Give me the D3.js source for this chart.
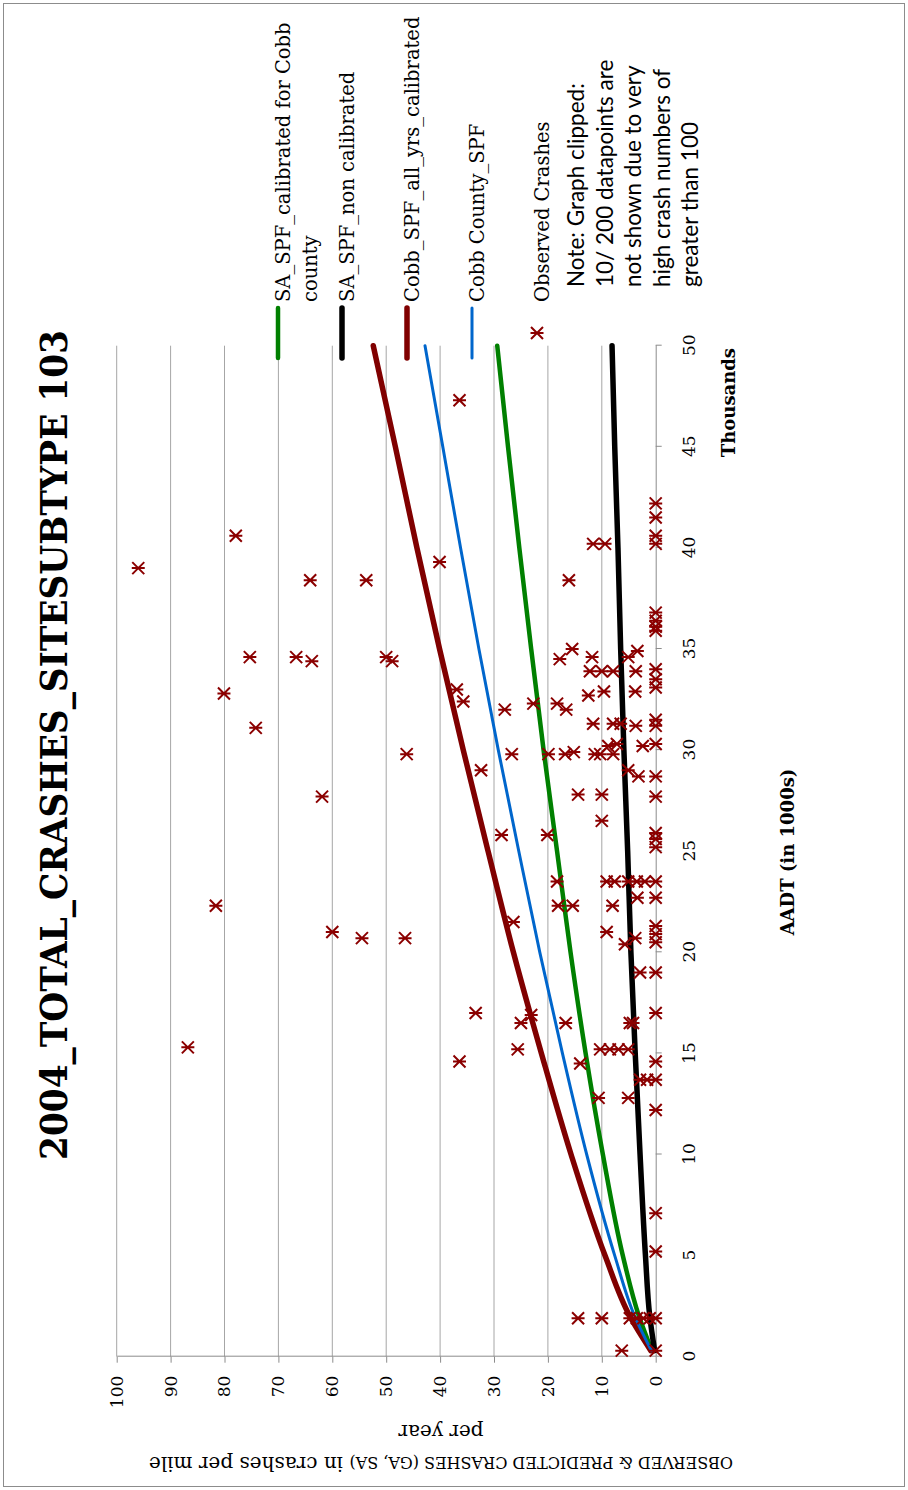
<!DOCTYPE html>
<head>
  <meta charset="utf-8" />
  <script src="https://d3js.org/d3.v7.min.js"></script>
  <style>
    body { margin: 0; background: #fff; }
    text { font-family: "DejaVu Serif", serif; fill: #000; }
    .note { font-family: Lato, "Open Sans", sans-serif; }
    .axis path, .axis line { stroke: #8c8c8c; }
    .grid line { stroke: #a6a6a6; stroke-width: 1px; }
  </style>
</head>

<body>
  <script>
    var width = 908,
      height = 1490;

    // the chart sits on its side in the page, so it is built in a
    // 1490 x 908 frame and the whole group is turned by -90 degrees
    var W = 1490, H = 908;

    var aadtTicks = [0, 5, 10, 15, 20, 25, 30, 35, 40, 45, 50];
    var crashTicks = [0, 10, 20, 30, 40, 50, 60, 70, 80, 90, 100];

    // fitted SPF curves, AADT in thousands
    var curveAadt       = [0.3, 2,   5,   10,   15,   20,   25,   30,   35,   40,   45,   50];
    var saCalibrated    = [0.7, 3.1, 6.1, 9.8,  13.0, 15.8, 18.3, 20.8, 23.1, 25.3, 27.4, 29.4];
    var saNonCalibrated = [0.2, 1.1, 1.9, 2.9,  3.8,  4.6,  5.2,  5.9,  6.5,  7.0,  7.6,  8.1];
    var cobbAllYrs      = [0.9, 4.8, 9.4, 15.7, 21.2, 26.4, 31.1, 35.7, 40.1, 44.3, 48.3, 52.4];
    var cobbCounty      = [0.8, 3.9, 7.6, 12.8, 17.3, 21.5, 25.4, 29.2, 32.8, 36.2, 39.5, 42.8];

    // observed crashes [AADT (1000s), crashes per mile per year]
    var observed = [
      [39.0, 96.0], [15.3, 86.8], [22.3, 81.6], [32.8, 80.1], [40.6, 77.9], [34.6, 75.3],
      [31.1, 74.2], [34.6, 66.7], [38.4, 64.1], [34.4, 63.8], [27.7, 61.9], [21.0, 60.0],
      [20.7, 54.5], [38.4, 53.7], [34.6, 50.0], [34.4, 48.9], [20.7, 46.5], [29.8, 46.2],
      [47.3, 36.4], [39.3, 40.1], [38.4, 16.1],
      [40.2, 11.6], [40.2, 9.4], [42.2, 0], [41.5, 0], [40.6, 0], [40.2, 0],
      [36.8, 0], [36.4, 0], [36.1, 0], [35.9, 0],
      [34.5, 17.8], [35.0, 15.5], [34.6, 11.8], [33.9, 12.2], [33.9, 10.0], [33.9, 7.9],
      [34.6, 5.1], [34.9, 3.4], [33.9, 3.7], [32.7, 12.5], [32.9, 9.6], [32.9, 3.8],
      [34.0, 0], [33.5, 0], [33.1, 0], [33.0, 36.9], [32.4, 35.7], [32.0, 28.0],
      [32.3, 22.7], [32.3, 18.3], [32.0, 16.6],
      [31.3, 11.6], [31.3, 7.9], [31.3, 6.5], [31.2, 3.7], [31.5, 0], [31.2, 0],
      [29.0, 32.4], [29.8, 26.7], [29.8, 19.9], [29.8, 16.8], [29.9, 15.2], [29.8, 11.3],
      [29.8, 10.3], [30.2, 8.8], [29.8, 7.9], [30.3, 7.2], [30.2, 2.4], [30.3, 0],
      [29.0, 5.1], [28.7, 3.2], [28.7, 0], [27.7, 0], [27.8, 14.4], [27.8, 10.0],
      [26.5, 10.0], [25.8, 28.6], [25.8, 20.1], [25.9, 0], [25.6, 0], [25.2, 0],
      [23.5, 18.3], [22.3, 18.1], [22.3, 15.4], [23.5, 9.1], [23.5, 7.6], [23.5, 5.1],
      [23.5, 3.5], [23.5, 2.0], [23.5, 0], [22.7, 3.4], [22.7, 0], [22.3, 8.0],
      [21.0, 9.1], [20.4, 5.7], [20.7, 3.8], [21.3, 0], [20.9, 0], [20.5, 0],
      [21.5, 26.4], [19.0, 2.9], [19.0, 0], [17.0, 33.4], [16.9, 23.1], [16.5, 25.0],
      [16.5, 16.7], [16.5, 4.8], [16.5, 4.2], [17.0, 0],
      [14.6, 36.4], [15.2, 25.6], [14.5, 14.0], [15.2, 10.3], [15.2, 8.5], [15.2, 6.9],
      [15.2, 5.1], [14.6, 0], [13.7, 2.9], [13.7, 1.6], [13.7, 0], [12.8, 10.6],
      [12.8, 5.1], [12.2, 0],
      [7.1, 0], [5.2, 0], [1.9, 14.4], [1.9, 10.0], [1.9, 4.8], [1.9, 3.5],
      [1.9, 2.3], [1.9, 1.1], [1.9, 0], [0.3, 6.3], [0.3, 0]
    ];

    var legendNames = [
      ["SA_SPF_calibrated for Cobb", "county"],
      ["SA_SPF_non calibrated"],
      ["Cobb_SPF_all_yrs_calibrated"],
      ["Cobb County_SPF"],
      ["Observed Crashes"]
    ];
    var noteLines = [
      "Note: Graph clipped:",
      "10/ 200 datapoints are",
      "not shown due to very",
      "high crash numbers of",
      "greater than 100"
    ];

    var series = [
      { values: saCalibrated, color: "#008000", width: 4.5 },
      { values: saNonCalibrated, color: "#000000", width: 5.5 },
      { values: cobbAllYrs, color: "#800000", width: 5.5 },
      { values: cobbCounty, color: "#0066cc", width: 3 }
    ];
    var markColor = "#8b0000";
    var starPath = "M-6,-6L6,6M-6,6L6,-6M0,-6.5V6.5";

    var svg = d3
      .select("body")
      .append("svg")
      .attr("width", width)
      .attr("height", height);

    // outer frame
    svg.append("rect")
      .attr("x", 3.5).attr("y", 3.5)
      .attr("width", width - 7).attr("height", height - 7)
      .attr("fill", "none").attr("stroke", "#8c8c8c");

    var g = svg.append("g")
      .attr("transform", "translate(0," + height + ") rotate(-90)");

    var x = d3.scaleLinear().domain([0, 50]).range([133.3, 1144.3]);
    var y = d3.scaleLinear().domain([0, 100]).range([655.7, 116.7]);

    // vertical gridlines (crash axis)
    g.append("g").attr("class", "grid")
      .selectAll("line")
      .data(crashTicks.slice(1))
      .join("line")
      .attr("x1", x(0)).attr("x2", x(50))
      .attr("y1", d => y(d)).attr("y2", d => y(d));

    var yAxis = g.append("g").attr("class", "axis")
      .attr("transform", "translate(" + x(0) + ",0)")
      .call(d3.axisLeft(y).tickValues(crashTicks).tickSize(6).tickSizeOuter(0).tickPadding(13));
    yAxis.selectAll("text").style("font-size", "17px").style("font-family", "DejaVu Serif");

    var xAxis = g.append("g").attr("class", "axis")
      .attr("transform", "translate(0," + y(0) + ")")
      .call(d3.axisBottom(x).tickValues(aadtTicks).tickSize(6).tickSizeOuter(0).tickPadding(21));
    xAxis.selectAll("text").style("font-size", "17px").style("font-family", "DejaVu Serif");

    // curves
    var line = d3.line()
      .x((d, i) => x(curveAadt[i]))
      .y(d => y(d))
      .curve(d3.curveMonotoneX);

    g.append("g")
      .selectAll("path")
      .data(series)
      .join("path")
      .attr("d", d => line(d.values))
      .attr("fill", "none")
      .attr("stroke", d => d.color)
      .attr("stroke-width", d => d.width)
      .attr("stroke-linecap", "round");

    // observed crashes
    g.append("g")
      .selectAll("path")
      .data(observed)
      .join("path")
      .attr("transform", d => "translate(" + x(d[0]) + "," + y(d[1]) + ")")
      .attr("d", starPath)
      .attr("fill", "none")
      .attr("stroke", markColor)
      .attr("stroke-width", 2);

    // titles
    g.append("text")
      .attr("x", 745).attr("y", 67)
      .attr("text-anchor", "middle")
      .attr("textLength", 830)
      .attr("lengthAdjust", "spacingAndGlyphs")
      .style("font-size", "38px").style("font-weight", "bold")
      .text("2004_TOTAL_CRASHES_SITESUBTYPE 103");

    g.append("text")
      .attr("x", 638).attr("y", 794)
      .attr("text-anchor", "middle")
      .style("font-size", "18px").style("font-weight", "bold")
      .text("AADT (in 1000s)");

    g.append("text")
      .attr("x", 1142).attr("y", 735)
      .attr("text-anchor", "end")
      .style("font-size", "18px").style("font-weight", "bold")
      .text("Thousands");

    // crash axis title: capitals are set smaller than the lower case words
    var yTitle = g.append("text")
      .attr("transform", "translate(0,441) rotate(-90)")
      .attr("text-anchor", "middle");
    yTitle.append("tspan").attr("x", 0).attr("y", 33)
      .style("font-size", "16px")
      .text("OBSERVED & PREDICTED CRASHES (GA, SA)");
    yTitle.append("tspan")
      .style("font-size", "20px")
      .text(" in crashes per mile");
    yTitle.append("tspan").attr("x", 0).attr("y", 65)
      .style("font-size", "20px")
      .text("per year");

    // legend
    var legendV = [278, 342, 407, 472, 537];
    var leg = g.append("g");
    series.forEach(function (s, i) {
      leg.append("line")
        .attr("x1", 1132).attr("x2", 1182)
        .attr("y1", legendV[i]).attr("y2", legendV[i])
        .attr("stroke", s.color)
        .attr("stroke-width", s.width)
        .attr("stroke-linecap", "round");
    });
    leg.append("path")
      .attr("transform", "translate(1157," + legendV[4] + ")")
      .attr("d", starPath)
      .attr("fill", "none")
      .attr("stroke", markColor)
      .attr("stroke-width", 2);
    legendNames.forEach(function (lines, i) {
      lines.forEach(function (t, j) {
        leg.append("text")
          .attr("x", 1188).attr("y", legendV[i] + 12 + j * 27)
          .style("font-size", "19.5px")
          .text(t);
      });
    });

    leg.selectAll("text.note")
      .data(noteLines)
      .join("text")
      .attr("class", "note")
      .attr("x", 1203)
      .attr("y", (d, i) => 584 + i * 28.5)
      .style("font-size", "22.5px")
      .text(d => d);
  </script>
</body>
